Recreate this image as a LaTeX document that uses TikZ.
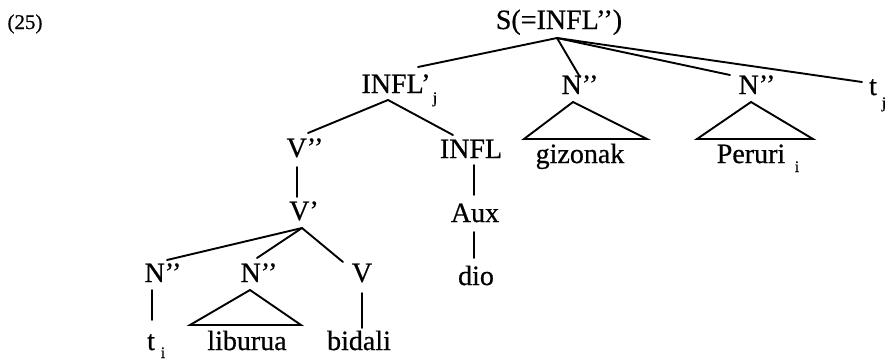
\documentclass[tikz,border=0pt]{standalone}
\usepackage{fontspec}
\setmainfont{Liberation Serif}[FakeBold=0.6]
\begin{document}
\begin{tikzpicture}[x=1pt,y=-1pt,
  lbl/.style={anchor=base,inner sep=0pt,font=\fontsize{28}{32}\selectfont},
  sub/.style={anchor=base,inner sep=0pt,font=\fontsize{16}{18}\selectfont},
  num/.style={anchor=base,inner sep=0pt,font=\fontsize{21}{25}\selectfont},
  edge/.style={line width=1.9pt,line cap=round,line join=miter}]
\useasboundingbox (0,0) rectangle (887,360);

% example number
\node[num] (ex) at (25,29) {(25)};

% labels
\node[lbl] (S)     at (559,29)  {S(=INFL’’)};
\node[lbl] (INFLp) at (396,93)  {INFL’};
\node[sub] (INFLp-j) at (435,103) {j};
\node[lbl] (NP1)   at (580,94)  {N’’};
\node[lbl] (NP2)   at (757,94)  {N’’};
\node[lbl] (tj)    at (873,95)  {t};
\node[sub] (tj-j)  at (884,108) {j};
\node[lbl] (giz)   at (580,163) {gizonak};
\node[lbl] (per)   at (751,163) {Peruri};
\node[sub] (per-i) at (797,172) {i};
\node[lbl] (VPP)   at (305,157) {V’’};
\node[lbl] (INFL)  at (471,158) {INFL};
\node[lbl] (VP)    at (304,220) {V’};
\node[lbl] (Aux)   at (475,222) {Aux};
\node[lbl] (dio)   at (476,285) {dio};
\node[lbl] (NP3)   at (163,282) {N’’};
\node[lbl] (NP4)   at (259,282) {N’’};
\node[lbl] (V)     at (362,282) {V};
\node[lbl] (ti)    at (151,350) {t};
\node[sub] (ti-i)  at (163,358) {i};
\node[lbl] (lib)   at (247,350) {liburua};
\node[lbl] (bid)   at (359,350) {bidali};

% branch points
\coordinate (S-b)     at (557,38);
\coordinate (INFLp-t) at (418,67);
\coordinate (NP1-t)   at (580,77);
\coordinate (NP2-t)   at (730,75);
\coordinate (tj-t)    at (862,82);
\coordinate (INFLp-b) at (388,100);
\coordinate (VPP-t)   at (308,133);
\coordinate (INFL-t)  at (453,135);
\coordinate (VPP-b)   at (297,167);
\coordinate (VP-t)    at (297,197);
\coordinate (INFL-b)  at (474,165);
\coordinate (Aux-t)   at (474,195);
\coordinate (Aux-b)   at (474,232);
\coordinate (dio-t)   at (474,258);
\coordinate (VP-b)    at (302,228);
\coordinate (NP3-t)   at (167,260);
\coordinate (NP4-t)   at (257,258);
\coordinate (V-t)     at (343,262);
\coordinate (NP3-b)   at (152,290);
\coordinate (ti-t)    at (152,320);
\coordinate (V-b)     at (362,293);
\coordinate (bid-t)   at (362,328);

% triangle corners
\coordinate (NP1-a) at (573,102);
\coordinate (NP1-l) at (524,139);
\coordinate (NP1-r) at (647,139);
\coordinate (NP2-a) at (751,102);
\coordinate (NP2-l) at (697,139);
\coordinate (NP2-r) at (813,139);
\coordinate (NP4-a) at (250,290);
\coordinate (NP4-l) at (190,325);
\coordinate (NP4-r) at (301,325);

% branches
\draw[edge] (S-b) -- (INFLp-t);
\draw[edge] (S-b) -- (NP1-t);
\draw[edge] (S-b) -- (NP2-t);
\draw[edge] (S-b) -- (tj-t);
\draw[edge] (INFLp-b) -- (VPP-t);
\draw[edge] (INFLp-b) -- (INFL-t);
\draw[edge] (VPP-b) -- (VP-t);
\draw[edge] (INFL-b) -- (Aux-t);
\draw[edge] (Aux-b) -- (dio-t);
\draw[edge] (VP-b) -- (NP3-t);
\draw[edge] (VP-b) -- (NP4-t);
\draw[edge] (VP-b) -- (V-t);
\draw[edge] (NP3-b) -- (ti-t);
\draw[edge] (V-b) -- (bid-t);

% triangles
\draw[edge] (NP1-a) -- (NP1-l) -- (NP1-r) -- cycle;
\draw[edge] (NP2-a) -- (NP2-l) -- (NP2-r) -- cycle;
\draw[edge] (NP4-a) -- (NP4-l) -- (NP4-r) -- cycle;
\end{tikzpicture}
\end{document}
